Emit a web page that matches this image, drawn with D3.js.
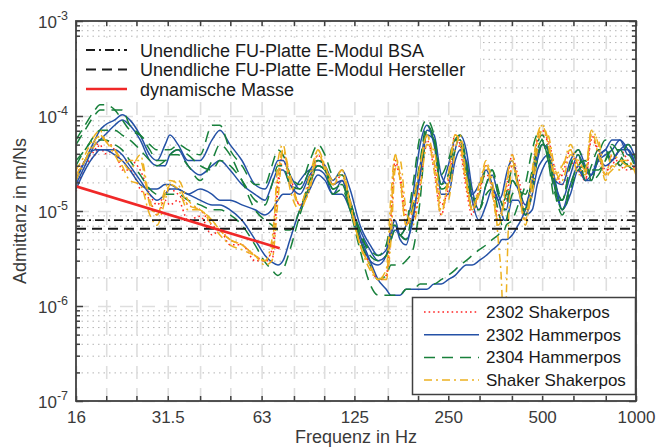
<!DOCTYPE html>
<html>
<head>
<meta charset="utf-8">
<script src="https://cdn.jsdelivr.net/npm/d3@7"></script>
<style>
  body { margin: 0; background: #fff; }
  svg { display: block; font-family: "Liberation Sans", Arial, Helvetica, sans-serif; }
</style>
</head>
<body>
<svg id="chart" width="657" height="448"></svg>
<script>
// Admittanz data.
// frequencies in Hz, admittance values in 1e-6 m/Ns (UNIT)
var UNIT = 1e-6;

var freqHz = [16.0,17.1,18.4,19.1,19.8,21.3,22.5,23.8,25.7,27.6,
  29.1,30.9,32.0,34.0,36.6,40.0,43.7,46.3,49.9,54.5,
  60.0,64.6,68.0,71.1,73.8,77.7,83.6,90.0,95.5,100.6,
  106.7,114.1,121.0,130.3,140.3,148.9,158.1,163.8,168.8,175.2,
  183.0,192.6,203.1,213.6,225.1,237.2,249.9,263.1,273.0,285.4,
  298.3,313.9,330.7,345.8,361.4,372.3,378.0,383.6,400.9,418.8,
  441.6,464.9,482.4,500.2,522.7,550.5,580.0,616.0,653.1,688.3,
  719.3,757.6,797.6,838.2,888.7,943.0,1000];

// 2302 Shakerpos (red dotted)
var shaker2302 = [
  [24,34,44,56,56,44,34,34,27,15, 11.6,15,17,15,11.6,10.3,7.1,6.3,5.0,4.4,
   3.4,3.0,3.9,21,39,24,11.6,21,39,27, 19,24,13,5.0,2.7,1.9,1.9,9.1,34,21,
   7.1,10.3,24,56,27,9.1,21,63,50,21, 11.6,15,30,17,8.0,10.3,13,17,39,19,
   8.0,24,56,71,50,21,24,44,27,21, 63,39,24,39,30,27,30],
  [16,30,39,50,40,44,27,27,17,13, 9.1,13,11.6,13,8.0,8.8,5.6,6.3,4.4,4.4,
   3.0,3.0,3.0,17,34,21,11.6,17,34,30, 19,21,11.6,5.0,2.7,1.9,2.1,6.3,30,24,
   9.1,8.0,19,50,34,11.6,17,56,44,17, 9.1,17,24,19,9.1,10.3,11.6,13,30,24,
   9.1,21,56,63,56,27,19,30,34,21, 56,44,27,30,44,34,27]
];

// 2302 Hammerpos (blue)
var hammer2302 = [
  [21,34,56,71,80,91,103,91,63,39, 34,50,63,50,34,34,56,71,50,34,
   19,17,24,34,34,24,17,27,34,30, 21,27,17,7.1,4.4,3.4,3.9,6.3,8.0,5.6,
   7.1,15,50,80,50,19,30,56,56,30, 15,19,27,19,13,15,19,24,34,19,
   11.6,21,34,50,44,21,19,34,44,30, 24,39,44,56,56,39,39],
  [19,30,50,56,63,80,91,80,56,34, 30,30,39,44,30,24,30,34,27,19,
   15,13,19,27,27,19,15,24,30,27, 19,21,11.6,6.3,3.9,3.0,3.4,5.0,6.3,5.6,
   5.0,8.0,30,71,63,24,19,44,63,44, 17,10.3,19,24,15,11.6,10.3,10.3,21,17,
   9.1,15,27,34,39,19,13,24,39,27, 24,34,44,34,44,44,30],
  [17,27,39,44,44,44,39,30,21,15, 13,15,17,17,15,17,15,13,13,11.6,
   10.3,9.1,10.3,13,15,15,21,27,27,24, 15,15,10.3,5.0,3.0,2.7,3.4,5.6,7.1,5.0,
   4.4,9.1,24,63,56,15,15,34,44,34, 13,8.0,11.6,17,13,9.1,8.0,8.0,13,13,
   9.1,10.3,19,27,34,17,10.3,19,30,21, 21,34,30,34,44,50,34],
  [21,34,44,44,44,39,34,27,19,17, 17,19,19,17,15,13,11.6,11.6,10.3,8.0,
   5.0,3.4,2.9,2.7,3.0,5.0,10.3,17,24,21, 15,21,13,5.6,3.0,1.9,1.5,1.3,1.3,1.3,
   1.5,1.5,1.5,1.5,1.7,1.7,1.9,2.1,2.4,2.7, 2.7,3.0,3.4,3.9,4.4,5.0,5.0,5.0,5.6,7.1,
   10.3,21,39,50,44,21,10.3,15,27,21, 24,34,39,44,56,44,30]
];

// 2304 Hammerpos (green dashed)
var hammer2304 = [
  [56,80,116,131,131,116,91,71,63,50, 44,44,44,50,44,39,80,80,44,30,
   19,19,30,44,39,24,19,34,50,39, 24,24,13,5.6,3.9,3.4,4.4,7.1,7.1,5.6,
   7.1,19,63,91,63,24,34,56,56,27, 13,15,27,27,15,13,13,15,27,19,
   10.3,24,50,63,44,19,13,30,44,27, 21,39,56,44,30,39,27],
  [50,71,103,116,116,116,116,80,63,44, 34,34,39,44,39,30,27,34,30,21,
   13,11.6,19,30,30,19,17,27,34,30, 17,19,11.6,6.3,3.4,3.0,3.4,5.0,6.3,5.6,
   5.0,11.6,34,80,56,19,24,56,63,34, 15,10.3,19,27,17,11.6,10.3,11.6,21,17,
   15,27,44,56,34,13,13,30,39,21, 30,44,44,30,34,50,34],
  [34,44,63,71,71,71,63,56,44,34, 30,34,39,39,30,21,34,50,39,21,
   10.3,8.0,7.1,6.3,6.3,6.3,10.3,21,30,27, 15,17,10.3,5.0,2.7,1.9,2.1,2.7,2.7,2.7,
   3.0,3.9,13,71,56,17,19,44,50,24, 10.3,10.3,15,17,10.3,7.1,7.1,8.0,15,17,
   9.1,17,34,50,39,17,10.3,19,30,34, 21,24,34,50,39,30,30],
  [30,44,56,56,56,50,44,34,24,17, 15,15,15,15,13,11.6,10.3,10.3,9.1,7.1,
   4.4,2.9,2.4,2.1,2.4,3.9,9.1,19,30,27, 17,19,10.3,3.9,1.7,1.3,1.3,1.3,1.3,1.3,
   1.5,1.5,1.7,1.7,1.7,1.9,2.1,2.4,2.7,3.0, 3.4,3.9,4.4,5.0,5.6,6.3,6.3,7.1,8.0,11.6,
   19,44,63,56,34,15,9.1,17,27,30, 27,27,34,44,44,30,27]
];

// Shaker Shakerpos (orange dash-dot)
var shakerShaker = [
  [27,39,63,71,56,44,34,27,39,13, 9.1,17,21,19,11.6,10.3,8.0,6.3,5.0,4.4,
   3.4,3.0,3.9,34,50,17,10.3,19,44,27, 19,27,13,4.4,2.7,1.9,2.4,15,39,21,
   7.1,13,30,63,27,9.1,24,63,56,21, 10.3,17,34,17,7.1,9.1,13,19,39,19,
   7.1,21,56,80,50,21,27,50,30,24, 71,39,24,39,34,30,34],
  [24,34,56,63,56,39,30,34,34,11.6, 9.1,15,19,17,10.3,10.3,7.1,5.6,4.4,3.9,
   3.4,3.0,5.0,24,44,21,11.6,24,44,30, 19,24,11.6,4.4,2.4,1.9,2.1,9.1,39,24,
   7.1,10.3,30,63,34,10.3,19,63,50,19, 10.3,15,30,21,5.0,1.16,0.13,1.16,30,19,
   8.0,27,63,80,56,24,30,44,24,27, 71,50,21,30,27,30,27],
  [21,34,50,63,56,44,30,21,19,9.1, 7.1,13,19,21,13,10.3,8.0,6.3,5.0,4.4,
   3.4,2.7,3.0,13,44,24,11.6,17,39,30, 21,27,11.6,4.4,2.7,1.9,1.9,5.0,27,34,
   10.3,7.1,17,50,44,13,13,44,63,24, 10.3,19,30,15,8.0,10.3,15,19,34,17,
   10.3,15,44,71,63,27,21,39,34,27, 63,56,24,27,34,34,24]
];

// reference levels (m/Ns) and mass line
var levelBSA = 8.0e-6;
var levelHersteller = 6.5e-6;
var massFreq = [16, 72];
var massVals = [1.82e-5, 4.05e-6];

var xTicks = [16, 20, 25, 31.5, 40, 50, 63, 80, 100, 125, 160, 200, 250, 315, 400, 500, 630, 800, 1000];
var xLabelVals = [16, 31.5, 63, 125, 250, 500, 1000];
var yDecades = [1e-7, 1e-6, 1e-5, 1e-4, 1e-3];

var X0 = 76, X1 = 636, Y0 = 21, Y1 = 401;
var axisColor = "#404040";
var textColor = "#3a3a3a";

var svg = d3.select("#chart");
var x = d3.scaleLog().domain([16, 1000]).range([X0, X1]);
var y = d3.scaleLog().domain([1e-7, 1e-3]).range([Y1, Y0]);

var minorY = y.ticks().filter(function (v) {
  return !yDecades.some(function (d) { return Math.abs(v / d - 1) < 1e-6; });
});

// grid
function styleGrid(g, color, dash, width) {
  g.select(".domain").remove();
  g.selectAll("line").attr("stroke", color).attr("stroke-dasharray", dash).attr("stroke-width", width);
}
svg.append("g").attr("transform", "translate(" + X0 + ",0)")
  .call(d3.axisLeft(y).tickValues(minorY).tickSize(-(X1 - X0)).tickFormat(""))
  .call(styleGrid, "#b4b4b4", "1.5,4", 1);
svg.append("g").attr("transform", "translate(" + X0 + ",0)")
  .call(d3.axisLeft(y).tickValues(yDecades).tickSize(-(X1 - X0)).tickFormat(""))
  .call(styleGrid, "#dedede", "13,9", 1.6);
svg.append("g").attr("transform", "translate(0," + Y1 + ")")
  .call(d3.axisBottom(x).tickValues(xTicks).tickSize(-(Y1 - Y0)).tickFormat(""))
  .call(styleGrid, "#dedede", "13,9", 1.6);

// data
svg.append("clipPath").attr("id", "plotclip")
  .append("rect").attr("x", X0).attr("y", Y0).attr("width", X1 - X0).attr("height", Y1 - Y0);
var plot = svg.append("g").attr("clip-path", "url(#plotclip)");

var line = d3.line()
  .x(function (d) { return x(d[0]); })
  .y(function (d) { return y(d[1]); })
  .curve(d3.curveMonotoneX);

function toPoints(vals) {
  return vals.map(function (v, i) { return [freqHz[i], v * UNIT]; });
}

var groups = [
  { name: "2302 Shakerpos", data: shaker2302, color: "#ff2323", dash: "1.6,3", width: 1.5 },
  { name: "2302 Hammerpos", data: hammer2302, color: "#2451a6", dash: null, width: 1.5 },
  { name: "2304 Hammerpos", data: hammer2304, color: "#18803b", dash: "11,7", width: 1.5 },
  { name: "Shaker Shakerpos", data: shakerShaker, color: "#edb120", dash: "8,4,2,4", width: 1.5 }
];

groups.forEach(function (grp) {
  plot.append("g").selectAll("path")
    .data(grp.data)
    .enter()
    .append("path")
    .attr("d", function (d) { return line(toPoints(d)); })
    .attr("fill", "none")
    .attr("stroke", grp.color)
    .attr("stroke-width", grp.width)
    .attr("stroke-dasharray", grp.dash);
});

var refLines = [
  { name: "Unendliche FU-Platte E-Modul BSA", level: levelBSA, dash: "9,4,2,4" },
  { name: "Unendliche FU-Platte E-Modul Hersteller", level: levelHersteller, dash: "10,6" }
];
refLines.forEach(function (r) {
  plot.append("path")
    .attr("d", d3.line()([[x(16), y(r.level)], [x(1000), y(r.level)]]))
    .attr("stroke", "#1a1a1a").attr("stroke-width", 1.8)
    .attr("stroke-dasharray", r.dash).attr("fill", "none");
});

plot.append("path")
  .attr("d", d3.line()(massFreq.map(function (f, i) { return [x(f), y(massVals[i])]; })))
  .attr("stroke", "#f02828").attr("stroke-width", 2.6).attr("fill", "none");

// axes
function styleAxis(g) {
  g.select(".domain").remove();
  g.selectAll(".tick line").attr("stroke", axisColor).attr("stroke-width", 1.5);
  g.selectAll(".tick text").attr("fill", textColor).attr("font-size", 17)
    .attr("font-family", "Liberation Sans, Arial, sans-serif");
}
svg.append("g").attr("transform", "translate(0," + Y1 + ")")
  .call(d3.axisBottom(x).tickValues(xTicks).tickSize(-5).tickSizeOuter(0).tickPadding(10)
    .tickFormat(function (d) { return xLabelVals.indexOf(d) >= 0 ? String(d) : ""; }))
  .call(styleAxis);
svg.append("g").attr("transform", "translate(0," + Y0 + ")")
  .call(d3.axisTop(x).tickValues(xTicks).tickSize(-5).tickSizeOuter(0).tickFormat(""))
  .call(styleAxis);
[[d3.axisLeft, X0], [d3.axisRight, X1]].forEach(function (a) {
  svg.append("g").attr("transform", "translate(" + a[1] + ",0)")
    .call(a[0](y).tickValues(yDecades).tickSize(-7).tickSizeOuter(0).tickFormat(""))
    .call(styleAxis);
  svg.append("g").attr("transform", "translate(" + a[1] + ",0)")
    .call(a[0](y).tickValues(minorY).tickSize(-4).tickSizeOuter(0).tickFormat(""))
    .call(styleAxis);
});

svg.append("rect").attr("x", X0).attr("y", Y0).attr("width", X1 - X0).attr("height", Y1 - Y0)
  .attr("fill", "none").attr("stroke", axisColor).attr("stroke-width", 1.8);

// y tick labels 10^n
yDecades.forEach(function (d) {
  var t = svg.append("text").attr("x", 68).attr("y", y(d) + 7)
    .attr("text-anchor", "end").attr("fill", textColor).attr("font-size", 17);
  t.append("tspan").text("10");
  t.append("tspan").attr("dy", -8).attr("font-size", 12.5).text(String(Math.round(Math.log10(d))));
});

// axis titles
svg.append("text").attr("transform", "translate(26," + ((Y0 + Y1) / 2) + ") rotate(-90)")
  .attr("text-anchor", "middle").attr("fill", textColor).attr("font-size", 18)
  .text("Admittanz in m/Ns");
svg.append("text").attr("x", (X0 + X1) / 2).attr("y", 443)
  .attr("text-anchor", "middle").attr("fill", textColor).attr("font-size", 18)
  .text("Frequenz in Hz");

// legend 1 (top, no box)
var leg1 = svg.append("g");
leg1.append("rect").attr("x", X0 + 1).attr("y", 38).attr("width", 403).attr("height", 62).attr("fill", "#fff");
var leg1Items = [
  { name: refLines[0].name, color: "#1a1a1a", dash: refLines[0].dash, width: 1.8 },
  { name: refLines[1].name, color: "#1a1a1a", dash: refLines[1].dash, width: 1.8 },
  { name: "dynamische Masse", color: "#f02828", dash: null, width: 2.6 }
];
leg1Items.forEach(function (it, i) {
  var ry = 50 + i * 19.5;
  leg1.append("line").attr("x1", 86).attr("x2", 127).attr("y1", ry).attr("y2", ry)
    .attr("stroke", it.color).attr("stroke-width", it.width).attr("stroke-dasharray", it.dash);
  leg1.append("text").attr("x", 140).attr("y", ry + 6.5).attr("font-size", 18).attr("fill", "#1a1a1a").text(it.name);
});

// legend 2 (bottom right, boxed)
var leg2 = svg.append("g");
leg2.append("rect").attr("x", 412.5).attr("y", 297.5).attr("width", 223).attr("height", 97)
  .attr("fill", "#fff").attr("stroke", axisColor).attr("stroke-width", 1.5);
groups.forEach(function (grp, i) {
  var ry = 312 + i * 22.7;
  leg2.append("line").attr("x1", 424).attr("x2", 479).attr("y1", ry).attr("y2", ry)
    .attr("stroke", grp.color).attr("stroke-width", grp.width).attr("stroke-dasharray", grp.dash);
  leg2.append("text").attr("x", 486).attr("y", ry + 6).attr("font-size", 17).attr("fill", "#1a1a1a").text(grp.name);
});
</script>
</body>
</html>
